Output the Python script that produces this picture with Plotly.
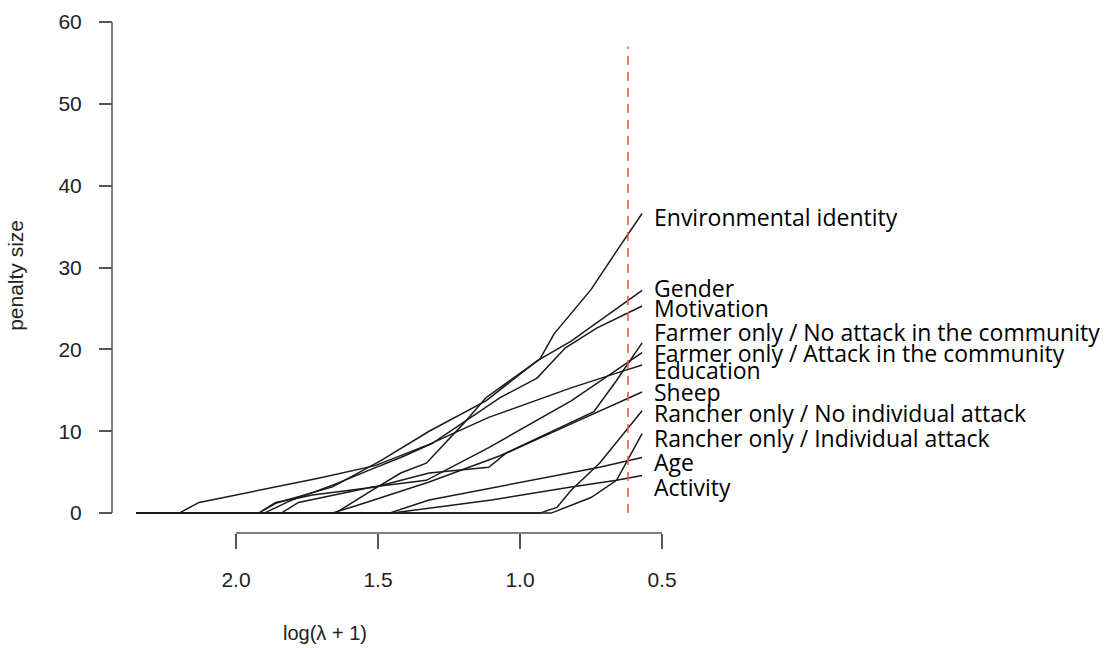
import plotly.graph_objects as go

# ---- data (log(lambda+1) breakpoints and penalty size) ----
env_x = [2.35, 1.65, 1.52, 1.42, 1.33, 1.20, 1.12, 0.93, 0.88, 0.75, 0.66, 0.57]
env_y = [0, 0, 2.8, 4.9, 6.1, 10.9, 14.1, 18.8, 21.9, 27.3, 32.0, 36.6]

gender_x = [2.35, 1.92, 1.86, 1.66, 1.49, 1.32, 1.12, 0.94, 0.82, 0.57]
gender_y = [0, 0, 1.2, 3.2, 6.4, 10.0, 13.7, 18.6, 21.0, 27.2]

motiv_x = [2.35, 1.90, 1.81, 1.66, 1.52, 1.42, 1.31, 1.07, 0.94, 0.84, 0.73, 0.57]
motiv_y = [0, 0, 1.5, 3.4, 5.4, 6.8, 8.5, 14.1, 16.5, 20.2, 22.6, 25.3]

farm_no_x = [2.35, 1.66, 1.55, 1.32, 1.07, 0.86, 0.74, 0.66, 0.57]
farm_no_y = [0, 0, 1.2, 3.8, 7.0, 10.4, 12.4, 16.2, 20.8]

farm_att_x = [2.35, 1.84, 1.78, 1.52, 1.33, 1.11, 0.82, 0.57]
farm_att_y = [0, 0, 1.3, 3.2, 4.0, 8.0, 13.7, 19.6]

educ_x = [2.35, 2.20, 2.13, 1.90, 1.71, 1.51, 1.32, 1.11, 0.82, 0.66, 0.57]
educ_y = [0, 0, 1.3, 2.9, 4.25, 5.8, 8.4, 11.7, 15.3, 17.1, 18.1]

sheep_x = [2.35, 1.92, 1.86, 1.73, 1.51, 1.32, 1.11, 1.05, 0.82, 0.57]
sheep_y = [0, 0, 1.3, 2.2, 3.2, 4.9, 5.6, 7.3, 10.9, 14.8]

ranch_no_x = [2.35, 0.93, 0.87, 0.82, 0.72, 0.57]
ranch_no_y = [0, 0, 0.7, 2.8, 6.1, 12.5]

ranch_ind_x = [2.35, 0.89, 0.75, 0.66, 0.57]
ranch_ind_y = [0, 0, 1.9, 4.0, 9.7]

age_x = [2.35, 1.46, 1.32, 0.82, 0.72, 0.57]
age_y = [0, 0, 1.6, 4.9, 5.6, 6.8]

activ_x = [2.35, 1.45, 1.10, 0.82, 0.66, 0.57]
activ_y = [0, 0, 1.6, 3.2, 4.0, 4.6]

labels = ["Environmental identity", "Gender", "Motivation",
          "Farmer only / No attack in the community",
          "Farmer only / Attack in the community", "Education", "Sheep",
          "Rancher only / No individual attack",
          "Rancher only / Individual attack", "Age", "Activity"]
label_y = [36.2, 27.5, 25.1, 22.1, 19.6, 17.5, 14.8, 12.2, 9.2, 6.3, 3.2]

x_ticks = [2.0, 1.5, 1.0, 0.5]
x_ticktext = ["2.0", "1.5", "1.0", "0.5"]
y_ticks = [0, 10, 20, 30, 40, 50, 60]

selected_lambda = 0.62
selected_top = 57

series = [(env_x, env_y), (gender_x, gender_y), (motiv_x, motiv_y),
          (farm_no_x, farm_no_y), (farm_att_x, farm_att_y), (educ_x, educ_y),
          (sheep_x, sheep_y), (ranch_no_x, ranch_no_y),
          (ranch_ind_x, ranch_ind_y), (age_x, age_y), (activ_x, activ_y)]

fig = go.Figure()
for (xs, ys), name in zip(series, labels):
    fig.add_trace(go.Scatter(x=xs, y=ys, mode="lines", name=name,
                             line=dict(color="#1a1a1a", width=1.5),
                             showlegend=False, hoverinfo="skip"))

# selected lambda
fig.add_trace(go.Scatter(x=[selected_lambda, selected_lambda], y=[0, selected_top],
                         mode="lines", showlegend=False, hoverinfo="skip",
                         line=dict(color="rgba(255,80,80,0.85)", width=1.8,
                                   dash="9px,7px")))

for name, ly in zip(labels, label_y):
    fig.add_annotation(x=0.535, y=ly, xref="x", yref="y", text=name,
                       showarrow=False, xanchor="left", yanchor="middle",
                       font=dict(family="Open Sans", size=23, color="black"))

tick_font = dict(family="Liberation Sans, Arial", size=21, color="#222")

fig.update_layout(
    width=1109, height=648,
    margin=dict(l=112, r=433, t=10, b=115),
    paper_bgcolor="white", plot_bgcolor="white",
    xaxis=dict(range=[2.4014, 0.4507], domain=[0.0177, 1],
               anchor="free", position=0,
               tickmode="array", tickvals=x_ticks, ticktext=x_ticktext,
               ticks="outside", ticklen=15, tickwidth=1.5, tickcolor="#555",
               showline=False, showgrid=False, zeroline=False,
               tickfont=tick_font, ticklabelstandoff=13),
    yaxis=dict(range=[-1.46, 61.1], domain=[0.0153, 1],
               anchor="free", position=0,
               tickmode="array", tickvals=y_ticks,
               ticks="outside", ticklen=13, tickwidth=1.5, tickcolor="#555",
               showline=False, showgrid=False, zeroline=False,
               tickfont=tick_font, ticklabelstandoff=13),
)

# R-style axis lines spanning the tick range
fig.add_shape(type="line", xref="x", yref="paper", x0=2.0, x1=0.5, y0=0, y1=0,
              line=dict(color="#555", width=1.5))
fig.add_shape(type="line", xref="paper", yref="y", x0=0, x1=0, y0=0, y1=60,
              line=dict(color="#555", width=1.5))

fig.add_annotation(x=1.687, y=-0.193, xref="x", yref="paper",
                   text="log(λ + 1)", showarrow=False,
                   xanchor="center", yanchor="middle",
                   font=dict(family="Liberation Sans, Arial", size=20, color="#222"))
fig.add_annotation(x=-0.17, y=29, xref="paper", yref="y",
                   text="penalty size", showarrow=False, textangle=-90,
                   xanchor="center", yanchor="middle",
                   font=dict(family="Liberation Sans, Arial", size=21, color="#222"))

fig.write_html("out.html")
